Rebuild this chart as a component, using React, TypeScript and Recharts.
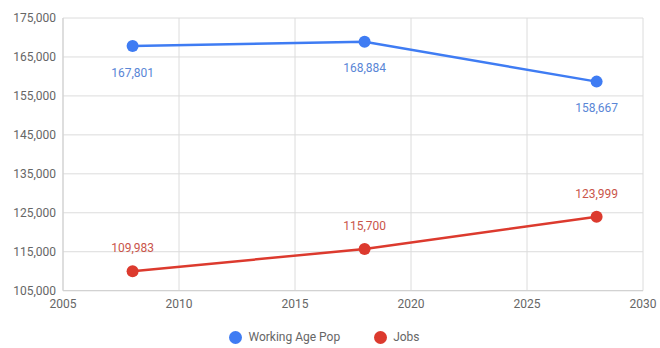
import React from 'react';
import { LineChart, Line, XAxis, YAxis, CartesianGrid, Legend, LabelList } from 'recharts';

const years = [2008, 2018, 2028];
const workingAgePop = [167801, 168884, 158667];
const jobs = [109983, 115700, 123999];
const xTicks = [2005, 2010, 2015, 2020, 2025, 2030];
const yTicks = [105000, 115000, 125000, 135000, 145000, 155000, 165000, 175000];
const seriesOrder = ['Working Age Pop', 'Jobs'];

const data = years.map((year, i) => ({
  year,
  pop: workingAgePop[i],
  jobs: jobs[i],
}));

const fmt = (v: number) => v.toLocaleString('en-US');

export default function App() {
  return (
    <div style={{ position: 'absolute', left: 0, top: 0, width: 660, height: 348, background: '#fff', fontFamily: 'Roboto, sans-serif' }}>
      <LineChart width={660} height={348} data={data} margin={{ top: 18, right: 17, left: 0, bottom: 13 }}>
        <CartesianGrid stroke="#dcdcdc" />
        <XAxis
          dataKey="year"
          type="number"
          domain={[2005, 2030]}
          ticks={xTicks}
          tickLine={false}
          axisLine={{ stroke: '#cfcfcf' }}
          tickSize={0}
          tickMargin={9}
          height={30}
          tick={{ fontSize: 12, fill: '#666' }}
        />
        <YAxis
          type="number"
          domain={[105000, 175000]}
          ticks={yTicks}
          tickFormatter={fmt}
          tickLine={false}
          axisLine={{ stroke: '#cfcfcf' }}
          tickSize={0}
          tickMargin={7}
          width={63}
          tick={{ fontSize: 12, fill: '#666' }}
        />
        <Legend
          verticalAlign="bottom"
          iconType="circle"
          iconSize={13}
          itemSorter={(item: any) => seriesOrder.indexOf(item.value)}
          wrapperStyle={{ fontSize: 12, color: '#666', bottom: 4, left: 20 }}
          formatter={(value) => <span style={{ color: '#666', marginLeft: 2, marginRight: 24 }}>{value}</span>}
        />
        <Line
          name="Working Age Pop"
          dataKey="pop"
          stroke="#3f7cf3"
          strokeWidth={2.5}
          dot={{ r: 6, fill: '#3f7cf3', stroke: 'none' }}
          isAnimationActive={false}
        >
          <LabelList dataKey="pop" position="bottom" offset={22} formatter={fmt} style={{ fontSize: 12, fill: '#5a86d6' }} />
        </Line>
        <Line
          name="Jobs"
          dataKey="jobs"
          stroke="#dc3a2e"
          strokeWidth={2.5}
          dot={{ r: 6, fill: '#dc3a2e', stroke: 'none' }}
          isAnimationActive={false}
        >
          <LabelList dataKey="jobs" position="top" offset={19} formatter={fmt} style={{ fontSize: 12, fill: '#c9554a' }} />
        </Line>
      </LineChart>
    </div>
  );
}
